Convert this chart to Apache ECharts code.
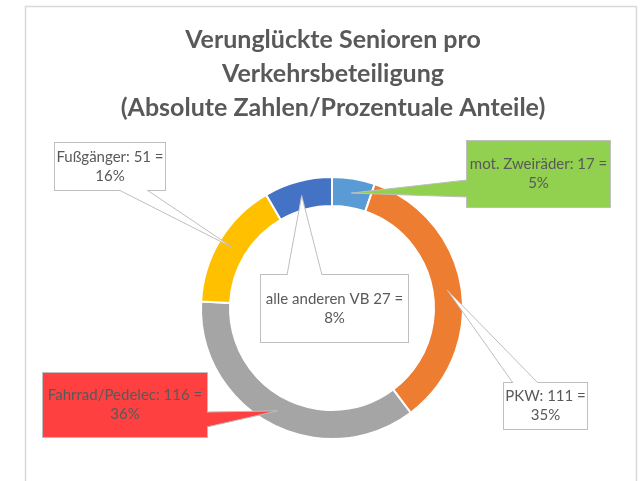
<!DOCTYPE html>
<html><head><meta charset="utf-8">
<script src="https://cdn.jsdelivr.net/npm/echarts@6/dist/echarts.min.js"></script>
<style>html,body{margin:0;padding:0;background:#fff}#c{width:641px;height:481px}</style>
</head><body><div id="c"></div>
<script>
// ---- data ----
const categories = ['mot. Zweiräder', 'PKW', 'Fahrrad/Pedelec', 'Fußgänger', 'alle anderen VB'];
const values = [17, 111, 116, 51, 27];
const separators = [': ', ': ', ': ', ': ', ' '];
const titleLines = ['Verunglückte Senioren pro', 'Verkehrsbeteiligung', '(Absolute Zahlen/Prozentuale Anteile)'];

// ---- style / layout ----
const colors = ['#5b9bd5', '#ed7d31', '#a5a5a5', '#ffc000', '#4472c4'];
const boxFill = ['#92d050', '#ffffff', '#ff4040', '#ffffff', '#ffffff'];
const boxes = [[467,141,143,66],[504,383,83,46],[43,373,164,64],[55,143,110,47],[261,275,147,67]];
const wedgeBase = [[467,180,467,197],[513,383,538,383],[207,412,207,427],[119,190,147,190],[287,275,322,275]];
const FONT = 'Lato, "Liberation Sans", sans-serif';
const LH = 19;

const chart = echarts.init(document.getElementById('c'), null, {renderer: 'canvas'});

const dataItems = values.map((v, i) => ({
  value: v,
  name: categories[i],
  itemStyle: {color: colors[i]},
  label: {
    backgroundColor: boxFill[i],
    width: boxes[i][2],
    padding: [(boxes[i][3] - 2 * LH) / 2, 0]
  }
}));

chart.setOption({
  animation: false,
  backgroundColor: '#ffffff',
  title: {
    text: titleLines.join('\n'),
    left: 328,
    textAlign: 'center',
    top: 18,
    textStyle: {fontSize: 25, fontWeight: 'bold', color: '#595959', lineHeight: 34, fontFamily: FONT}
  },
  series: [{
    type: 'pie',
    center: [332, 308],
    radius: [102, 131],
    startAngle: 90,
    clockwise: true,
    percentPrecision: 0,
    avoidLabelOverlap: false,
    itemStyle: {borderColor: '#ffffff', borderWidth: 2},
    label: {
      show: true,
      formatter: p => categories[p.dataIndex] + separators[p.dataIndex] + p.value + ' =\n' + p.percent + '%',
      color: '#595959',
      fontSize: 15,
      fontFamily: FONT,
      lineHeight: LH,
      borderColor: '#bfbfbf',
      borderWidth: 1,
      align: 'center'
    },
    labelLine: {show: false},
    labelLayout: p => {
      const b = boxes[p.dataIndex];
      return {x: b[0] + b[2] / 2, y: b[1] + b[3] / 2, align: 'center', verticalAlign: 'middle'};
    },
    emphasis: {disabled: true},
    data: dataItems
  }]
});

// callout wedges, tips taken from the library's own pie layout
const sData = chart.getModel().getSeriesByIndex(0).getData();
const graphics = [{
  type: 'rect', z: -10, silent: true,
  shape: {x: 25.5, y: 6.5, width: 611, height: 520},
  style: {fill: 'none', stroke: '#d9d9d9', lineWidth: 1.5}
}];
values.forEach((v, i) => {
  const L = sData.getItemLayout(i);
  const mid = (L.startAngle + L.endAngle) / 2;
  const rm = (L.r + L.r0) / 2;
  const tip = [L.cx + rm * Math.cos(mid), L.cy + rm * Math.sin(mid)];
  const wb = wedgeBase[i], b = boxes[i];
  const bc = [b[0] + b[2] / 2, b[1] + b[3] / 2];
  const mx = (wb[0] + wb[2]) / 2, my = (wb[1] + wb[3]) / 2;
  let dx = bc[0] - mx, dy = bc[1] - my;
  if (Math.abs(dx) > Math.abs(dy)) { dx = Math.sign(dx) * 1.5; dy = 0; } else { dy = Math.sign(dy) * 1.5; dx = 0; }
  const p1 = [wb[0], wb[1]], p2 = [wb[2], wb[3]];
  graphics.push({
    type: 'polygon', z: 100, silent: true,
    shape: {points: [[p1[0] + dx, p1[1] + dy], p1, tip, p2, [p2[0] + dx, p2[1] + dy]]},
    style: {fill: boxFill[i], stroke: 'none'}
  });
  graphics.push({
    type: 'polyline', z: 101, silent: true,
    shape: {points: [p1, tip, p2]},
    style: {fill: 'none', stroke: '#bfbfbf', lineWidth: 1}
  });
});
chart.setOption({graphic: graphics});
</script>
</body></html>
